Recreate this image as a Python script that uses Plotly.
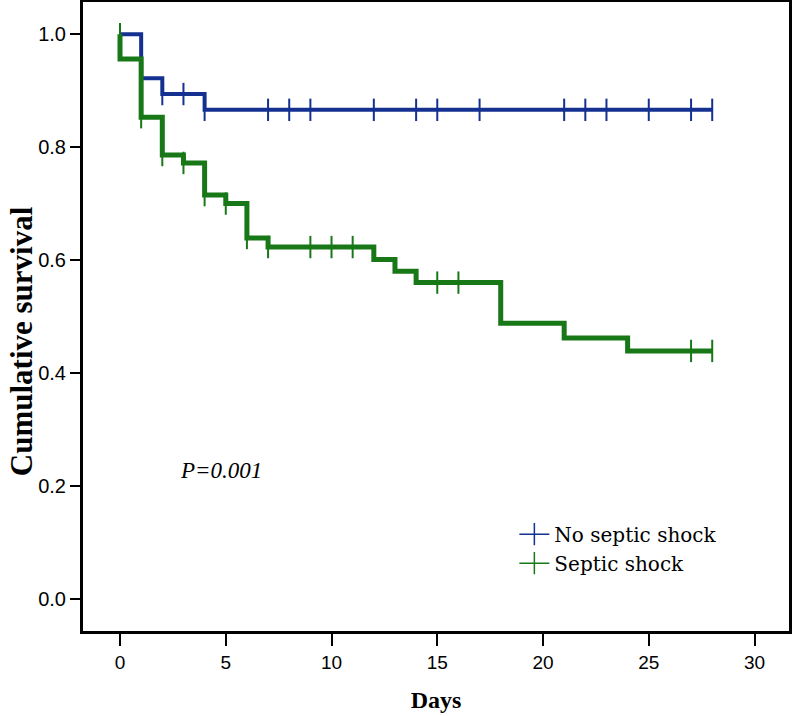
import plotly.graph_objects as go

# Kaplan-Meier step data (event days and survival after each step)
no_shock_days = [0, 1, 2, 4, 28]
no_shock_surv = [1.0, 0.922, 0.894, 0.866, 0.866]
no_shock_censor_days = [1, 2, 3, 4, 7, 8, 9, 12, 14, 15, 17, 21, 22, 23, 25, 27, 28]
no_shock_censor_surv = [0.922, 0.894, 0.894, 0.866, 0.866, 0.866, 0.866, 0.866, 0.866,
                        0.866, 0.866, 0.866, 0.866, 0.866, 0.866, 0.866, 0.866]

shock_days = [0, 0, 1, 2, 3, 4, 5, 6, 7, 12, 13, 14, 18, 21, 24, 28]
shock_surv = [1.0, 0.956, 0.853, 0.786, 0.772, 0.715, 0.700, 0.639, 0.623,
              0.601, 0.580, 0.560, 0.488, 0.462, 0.439, 0.439]
shock_censor_days = [0, 1, 2, 3, 4, 5, 6, 7, 9, 10, 11, 15, 16, 27, 28]
shock_censor_surv = [1.0, 0.853, 0.786, 0.772, 0.715, 0.700, 0.639, 0.623, 0.623,
                     0.623, 0.623, 0.560, 0.560, 0.439, 0.439]

x_ticks = [0, 5, 10, 15, 20, 25, 30]
y_ticks = [0.0, 0.2, 0.4, 0.6, 0.8, 1.0]

blue = 'rgb(20, 48, 145)'
green = 'rgb(24, 120, 24)'

fig = go.Figure()

groups = [
    ('No septic shock', no_shock_days, no_shock_surv, no_shock_censor_days,
     no_shock_censor_surv, blue, 4),
    ('Septic shock', shock_days, shock_surv, shock_censor_days,
     shock_censor_surv, green, 5),
]

for name, days, surv, c_days, c_surv, color, width in groups:
    fig.add_trace(go.Scatter(x=days, y=surv, mode='lines',
                             line=dict(color=color, width=width, shape='hv'),
                             showlegend=False, hoverinfo='skip'))
    fig.add_trace(go.Scatter(x=c_days, y=c_surv, mode='markers',
                             marker=dict(symbol='line-ns', size=16,
                                         line=dict(color=color, width=2)),
                             showlegend=False))
    # legend entry with a thin line and a censor tick
    fig.add_trace(go.Scatter(x=[None], y=[None], mode='lines+markers', name=name,
                             line=dict(color=color, width=1.5),
                             marker=dict(symbol='line-ns', size=16,
                                         line=dict(color=color, width=1.5))))

fig.add_annotation(x=4.78, y=0.228, text='<i>P=0.001</i>', showarrow=False,
                   font=dict(family='Liberation Serif', size=23, color='black'))

# y axis title as an annotation so it can sit a bit below the plot centre
fig.add_annotation(x=-0.087, y=0.46, xref='paper', yref='paper',
                   text='<b>Cumulative survival</b>', textangle=-90,
                   showarrow=False, xanchor='center', yanchor='middle',
                   font=dict(family='Liberation Serif', size=31, color='black'))

fig.update_layout(
    width=795, height=716,
    margin=dict(l=83, r=6, t=2, b=85),
    plot_bgcolor='white', paper_bgcolor='white',
    legend=dict(x=0.611, y=0.185, xanchor='left', yanchor='top',
                font=dict(family='DejaVu Serif', size=20, color='black'),
                bgcolor='rgba(0,0,0,0)', tracegroupgap=0),
    xaxis=dict(range=[-1.75, 31.63], tickvals=x_ticks, ticks='outside',
               ticklen=12, tickwidth=2, tickcolor='black',
               showline=True, linewidth=3, linecolor='black', mirror=True,
               showgrid=False, zeroline=False, automargin=False,
               tickfont=dict(family='Liberation Sans', size=19, color='black'),
               title=dict(text='<b>Days</b>', standoff=20,
                          font=dict(family='Liberation Serif', size=24, color='black'))),
    yaxis=dict(range=[-0.057, 1.057], tickvals=y_ticks, tickformat='.1f',
               ticks='outside', ticklen=10, tickwidth=2, tickcolor='black',
               showline=True, linewidth=3, linecolor='black', mirror=True,
               showgrid=False, zeroline=False, automargin=False,
               tickfont=dict(family='Liberation Sans', size=20, color='black')),
)

# drop the default body margin and scrollbars so the figure fills the window
fig.write_html('out.html', config={'displayModeBar': False},
               post_script="document.body.style.margin='0';"
                           "document.body.style.overflow='hidden';")
